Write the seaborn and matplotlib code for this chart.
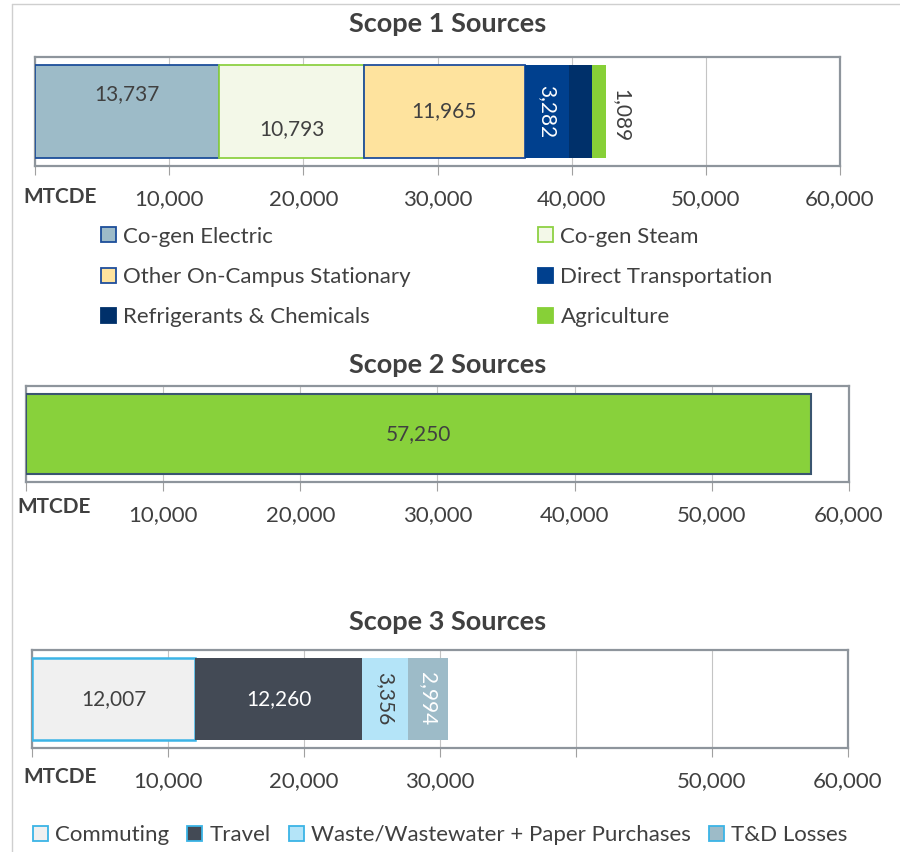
import numpy as np
import pandas as pd
import seaborn as sns
import matplotlib.pyplot as plt
from matplotlib.patches import Patch
from matplotlib.lines import Line2D

# ---- data (MTCDE) ----
scope1_cats = ['Co-gen Electric', 'Co-gen Steam', 'Other On-Campus Stationary',
               'Direct Transportation', 'Refrigerants & Chemicals', 'Agriculture']
scope1_vals = [13737, 10793, 11965, 3282, 1713, 1089]
scope1_show = [True, True, True, True, False, True]

scope2_cats = ['Scope 2']
scope2_vals = [57250]

scope3_cats = ['Commuting', 'Travel', 'Waste/Wastewater + Paper Purchases', 'T&D Losses']
scope3_vals = [12007, 12260, 3356, 2994]

xticks = [0, 10000, 20000, 30000, 40000, 50000, 60000]
ticklabels_full = ['', '10,000', '20,000', '30,000', '40,000', '50,000', '60,000']
ticklabels_s3 = ['', '10,000', '20,000', '30,000', '', '50,000', '60,000']

# ---- styles ----
TXT = '#404040'
FRAME = '#8E959C'
s1_fill = ['#9DBBC8', '#F3F8E8', '#FEE39E', '#00408E', '#00306A', '#87D037']
s1_edge = ['#1C4E9A', '#8ED143', '#1F4E9C', '#00408E', '#00306A', '#87D037']
s1_lw = [1.3, 1.3, 1.3, 0, 0, 0]
s2_fill = ['#88D13B']
s2_edge = ['#3A5570']
s2_lw = [1.5]
s3_fill = ['#F0F0F0', '#434A55', '#B4E4F8', '#9DBBC8']
s3_edge = ['#3BB4E6', '#434A55', '#B4E4F8', '#9DBBC8']
s3_lw = [1.8, 0, 0, 0]

sns.set_theme(style='white')
plt.rcParams['font.family'] = ['Lato', 'DejaVu Sans']

fig = plt.figure(figsize=(9, 8.52), dpi=100)
W, H = 900, 852


def px_axes(l, r, t, b):
    return fig.add_axes([l / W, 1 - b / H, (r - l) / W, (b - t) / H])


def stacked(ax, cats, vals, fills, edges, lws, height):
    df = pd.DataFrame({'cat': cats, 'val': vals})
    df['left'] = df['val'].cumsum() - df['val']
    for i, row in df.iterrows():
        ax.barh(0, row['val'], left=row['left'], height=height, color=fills[i],
                edgecolor=edges[i], linewidth=lws[i], zorder=3)
    df['mid'] = df['left'] + df['val'] / 2
    return df


def style_axis(ax, labels):
    ax.set_xlim(0, 60000)
    ax.set_ylim(-0.5, 0.5)
    ax.set_xticks(xticks)
    ax.set_xticklabels(labels)
    ax.set_yticks([])
    ax.grid(False)
    ax.grid(axis='x', color='#C4C4C4', lw=0.8, zorder=0)
    ax.set_axisbelow(True)
    for s in ax.spines.values():
        s.set_visible(True)
        s.set_color(FRAME)
        s.set_linewidth(1.6)
    ax.tick_params(axis='x', bottom=True, length=6.5, width=0.8, color='#A0A0A0',
                   pad=10, labelsize=16, labelcolor=TXT)


def title(y, s):
    fig.text(448 / W, 1 - y / H, s, ha='center', va='center', fontsize=19.5,
             fontweight='bold', color=TXT)


def unit(x, y):
    fig.text(x / W, 1 - y / H, 'MTCDE', ha='center', va='center', fontsize=15,
             fontweight='bold', color=TXT)


# ---- Scope 1 ----
title(24, 'Scope 1 Sources')
ax1 = px_axes(35, 840, 57, 166)
d1 = stacked(ax1, scope1_cats, scope1_vals, s1_fill, s1_edge, s1_lw, 0.85)
style_axis(ax1, ticklabels_full)
unit(60, 197)
lab_y = [0.16, -0.16, 0.0, 0.0, 0.0, -0.04]
lab_rot = [0, 0, 0, -90, 0, -90]
lab_col = [TXT, TXT, TXT, 'white', TXT, TXT]
for i, row in d1.iterrows():
    if not scope1_show[i]:
        continue
    txt = f"{row['val']:,}"
    if row['cat'] == 'Agriculture':
        ax1.text(row['left'] + row['val'] + 350, lab_y[i], txt, rotation=-90,
                 ha='left', va='center', fontsize=15, color=lab_col[i], zorder=5)
    else:
        ax1.text(row['mid'], lab_y[i], txt, rotation=lab_rot[i], ha='center',
                 va='center', fontsize=15, color=lab_col[i], zorder=5)

h1 = [Patch(facecolor=f, edgecolor=e, linewidth=1.3) for f, e in zip(s1_fill, s1_edge)]
kw = dict(frameon=False, fontsize=16, handlelength=0.68, handleheight=0.68,
          handletextpad=0.33, labelspacing=0.92, borderpad=0, borderaxespad=0,
          loc='center left', bbox_transform=fig.transFigure, labelcolor=TXT)
fig.legend([h1[0], h1[2], h1[4]], [scope1_cats[0], scope1_cats[2], scope1_cats[4]],
           bbox_to_anchor=(101 / W, 1 - 277 / H), **kw)
fig.legend([h1[1], h1[3], h1[5]], [scope1_cats[1], scope1_cats[3], scope1_cats[5]],
           bbox_to_anchor=(538 / W, 1 - 277 / H), **kw)

# ---- Scope 2 ----
title(365, 'Scope 2 Sources')
ax2 = px_axes(26, 849, 386, 482)
d2 = stacked(ax2, scope2_cats, scope2_vals, s2_fill, s2_edge, s2_lw, 0.84)
style_axis(ax2, ticklabels_full)
unit(54, 507)
for i, row in d2.iterrows():
    ax2.text(row['mid'], 0, f"{row['val']:,}", ha='center', va='center',
             fontsize=15, color=TXT, zorder=5)

# ---- Scope 3 ----
title(622, 'Scope 3 Sources')
ax3 = px_axes(32, 848, 650, 748)
d3 = stacked(ax3, scope3_cats, scope3_vals, s3_fill, s3_edge, s3_lw, 0.845)
style_axis(ax3, ticklabels_s3)
unit(60, 777)
s3_rot = [0, 0, -90, -90]
s3_col = [TXT, 'white', TXT, 'white']
for i, row in d3.iterrows():
    ax3.text(row['mid'], 0, f"{row['val']:,}", rotation=s3_rot[i], ha='center',
             va='center', fontsize=15, color=s3_col[i], zorder=5)

h3 = [Patch(facecolor=f, edgecolor='#3BB4E6', linewidth=1.3) for f in s3_fill]
kw3 = dict(kw)
kw3.update(ncol=4, columnspacing=0.8)
fig.legend(h3, scope3_cats, bbox_to_anchor=(33 / W, 1 - 835 / H), **kw3)

# outer screenshot frame
fig.add_artist(Line2D([12 / W, 12 / W], [0, 1 - 4 / H], transform=fig.transFigure,
                      color='#CFCFCF', lw=1))
fig.add_artist(Line2D([12 / W, 1], [1 - 4 / H, 1 - 4 / H], transform=fig.transFigure,
                      color='#CFCFCF', lw=1))

fig.savefig('out.png', dpi=100)
